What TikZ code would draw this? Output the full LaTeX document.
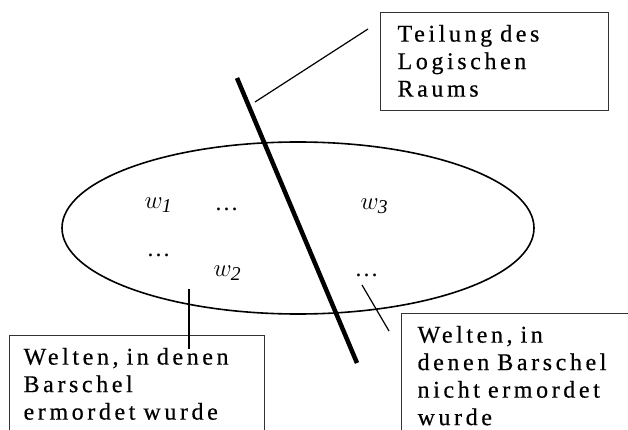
\documentclass[tikz,border=0pt]{standalone}
\usepackage{fontspec}
\setmainfont{Liberation Serif}
\newfontfamily\boxFont{Liberation Serif}[LetterSpace=15, FakeBold=0.5]

\begin{document}
\begin{tikzpicture}[x=1pt, y=-1pt,
    boxText/.style={draw=frameColour, line width=1.2pt, anchor=north west, align=left,
        inner ysep=8pt, text height=21pt, font=\boxFont\fontsize{24}{27.5}\selectfont},
    worldText/.style={anchor=base west, font=\fontsize{28}{30}\selectfont},
    pointer/.style={line width=1.2pt}]

    \definecolor{frameColour}{HTML}{333333}

    \useasboundingbox (0,0) rectangle (628,430);
    \clip (0,0) rectangle (628,430);

    % Draw logical space
    \draw[line width=1.6pt] (298,228) ellipse [x radius=236pt, y radius=86pt];

    % Draw division line
    \coordinate (cutTop) at (237,78);
    \coordinate (cutBottom) at (357,363);
    \draw[line width=4.5pt] (cutTop) -- (cutBottom);

    % Worlds
    \node[worldText] (wOne) at (141,208) {$w_{\mathit{1}}$};
    \node[worldText] (dotsOne) at (211,211) {\fontsize{24}{30}\selectfont\dots};
    \node[worldText] (wThree) at (357,209) {$w_{\mathit{3}}$};
    \node[worldText] (dotsTwo) at (143,256) {\fontsize{24}{30}\selectfont\dots};
    \node[worldText] (wTwo) at (210,276) {$w_{\mathit{2}}$};
    \node[worldText] (dotsThree) at (351,276) {\fontsize{24}{30}\selectfont\dots};

    % Label boxes
    \node[boxText, inner xsep=17pt, text width=194pt, text depth=61pt] (division) at (380,12)
        {Teilung des\\Logischen\\Raums};
    \node[boxText, inner xsep=14pt, text width=227pt, text depth=120pt] (murdered) at (9,335)
        {Welten, in denen\\Barschel\\ermordet wurde};
    \node[boxText, inner xsep=16pt, text width=240pt, text depth=120pt] (notMurdered) at (401,313)
        {Welten, in\\denen Barschel\\nicht ermordet\\wurde};

    % Pointers from the boxes
    \coordinate (divisionEnd) at (368,29);
    \coordinate (cutMark) at (255,102);
    \draw[pointer] (divisionEnd) -- (cutMark);

    \coordinate (murderedStart) at (189,289);
    \coordinate (murderedEnd) at (189,349);
    \draw[pointer] (murderedStart) -- (murderedEnd);

    \coordinate (notMurderedStart) at (362,285);
    \coordinate (notMurderedEnd) at (389,331);
    \draw[pointer] (notMurderedStart) -- (notMurderedEnd);

\end{tikzpicture}
\end{document}
